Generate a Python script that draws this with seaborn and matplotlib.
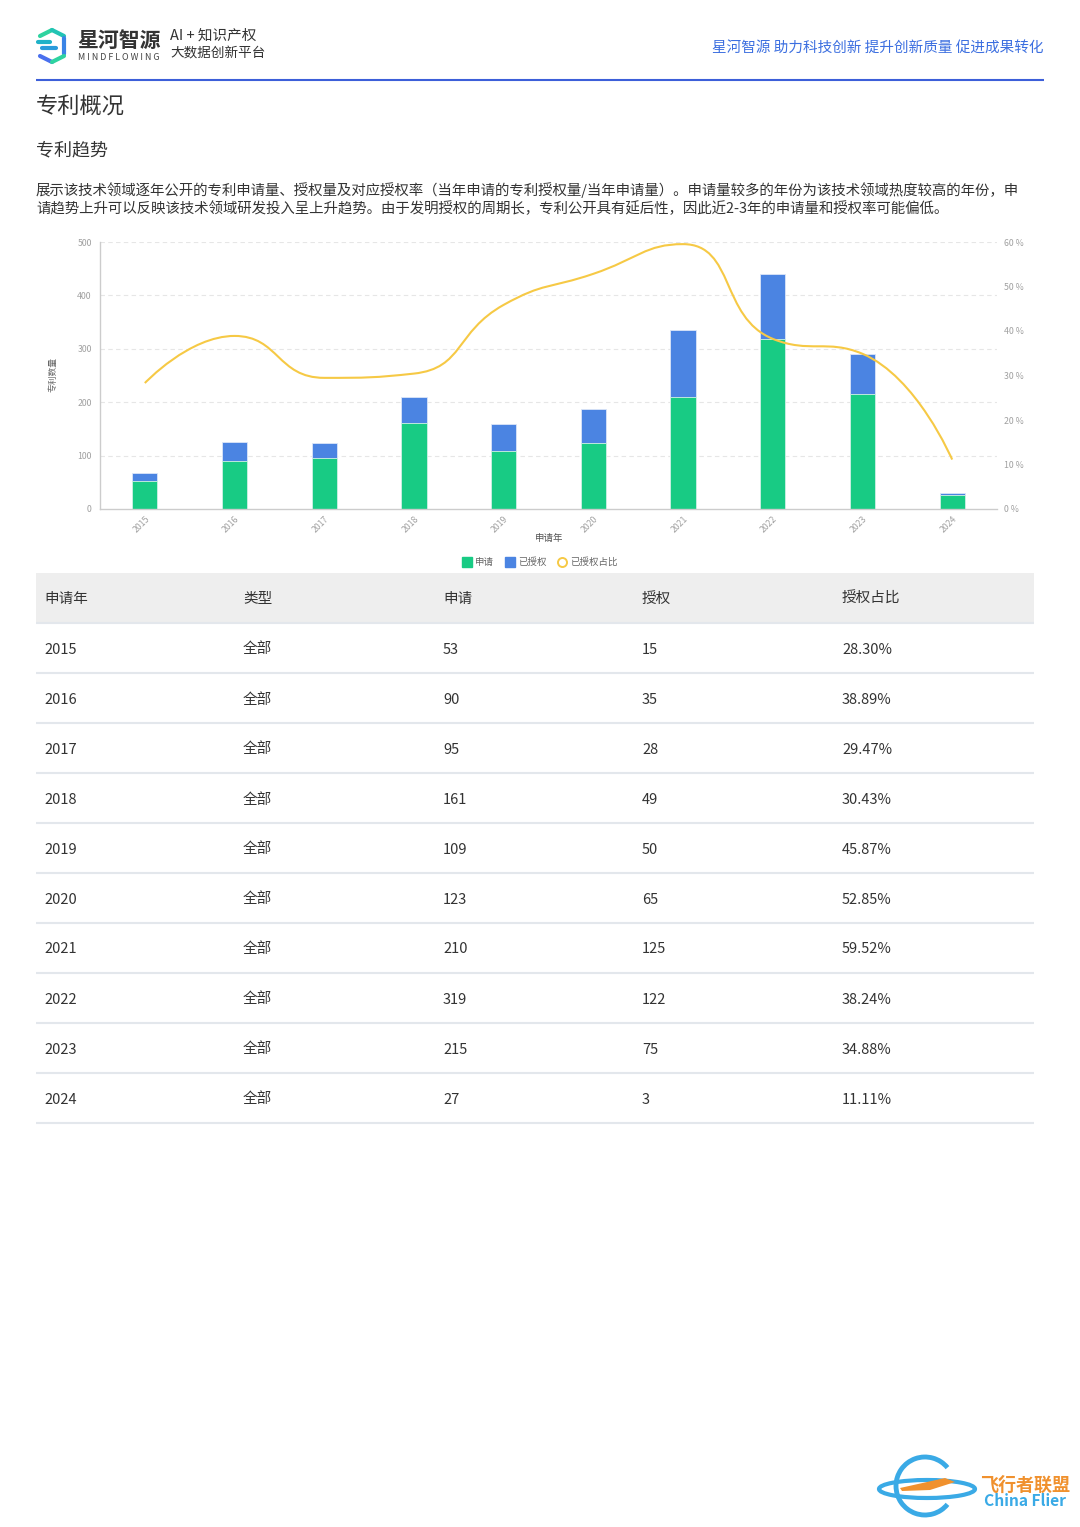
import numpy as np
import pandas as pd
import matplotlib
matplotlib.use("Agg")
import matplotlib.pyplot as plt
from matplotlib.path import Path
from matplotlib.patches import PathPatch, Rectangle, Ellipse, Arc, Polygon
from matplotlib.lines import Line2D
import seaborn as sns

years = [2015, 2016, 2017, 2018, 2019, 2020, 2021, 2022, 2023, 2024]
applied = [53, 90, 95, 161, 109, 123, 210, 319, 215, 27]
granted = [15, 35, 28, 49, 50, 65, 125, 122, 75, 3]
grant_ratio = [28.30, 38.89, 29.47, 30.43, 45.87, 52.85, 59.52, 38.24, 34.88, 11.11]
row_type = "全部"
table_header = ["申请年", "类型", "申请", "授权", "授权占比"]
y_ticks = [0, 100, 200, 300, 400, 500]
pct_ticks = [0, 10, 20, 30, 40, 50, 60]

GREEN = "#18CB84"
BLUE = "#4B84E2"
YELLOW = "#F6C945"
GREY = "#A0A0A0"
DARK = "#333333"

W, H = 1080, 1527
sns.set_theme(style="white")
plt.rcParams["font.family"] = ["Noto Sans CJK SC", "DejaVu Sans"]

fig = plt.figure(figsize=(W / 100, H / 100), dpi=100)
fig.patch.set_facecolor("white")


def fx(px):
    return px / W


def fy(py):
    return 1 - py / H


def txt(x, y, s, size, color=DARK, **kw):
    fig.text(fx(x), fy(y), s, fontsize=size, color=color, va="center", **kw)


def hline(x0, x1, y, color, lw):
    fig.add_artist(Line2D([fx(x0), fx(x1)], [fy(y), fy(y)], transform=fig.transFigure,
                          color=color, lw=lw, solid_capstyle="butt"))


# ---- page header ----
logo_cols = ["#2ED3A0", "#22C4B4", "#1FB2C8", "#2A9BDB", "#3A84E6", "#4A70EE"]
segs = [((40, 36), (52, 30)), ((52, 30), (64, 36)), ((38, 42), (50, 42)),
        ((42, 48), (56, 48)), ((64, 38), (64, 54)), ((40, 56), (52, 62)), ((52, 62), (64, 56))]
for k, ((x0, y0), (x1, y1)) in enumerate(segs):
    fig.add_artist(Line2D([fx(x0), fx(x1)], [fy(y0), fy(y1)], transform=fig.transFigure,
                          color=logo_cols[k % len(logo_cols)], lw=3, solid_capstyle="round"))
txt(77, 40, "星河智源", 15, "#333333", fontweight="bold")
txt(78, 57, "M I N D F L O W I N G", 6.4, "#444444")
txt(170, 36, "AI + 知识产权", 10.5, "#333333", fontweight="medium")
txt(170, 53, "大数据创新平台", 9.8, "#333333", fontweight="medium")
txt(1044, 48, "星河智源 助力科技创新 提升创新质量 促进成果转化", 10.5, "#3C6FE0", ha="right")
hline(36, 1044, 80, "#3D5FD9", 1.5)

txt(36, 106, "专利概况", 16, "#333333")
txt(36, 150, "专利趋势", 13, "#333333")
txt(36, 190, "展示该技术领域逐年公开的专利申请量、授权量及对应授权率（当年申请的专利授权量/当年申请量）。申请量较多的年份为该技术领域热度较高的年份，申",
    10.4, "#333333")
txt(36, 209, "请趋势上升可以反映该技术领域研发投入呈上升趋势。由于发明授权的周期长，专利公开具有延后性，因此近2-3年的申请量和授权率可能偏低。",
    10.4, "#333333")

# ---- chart ----
df = pd.DataFrame({"year": [str(y) for y in years], "applied": applied,
                   "total": [a + g for a, g in zip(applied, granted)]})

ax = fig.add_axes([fx(100), fy(509), fx(997) - fx(100), (509 - 242) / H])
sns.barplot(data=df, x="year", y="total", color=BLUE, width=0.28, saturation=1, ax=ax,
            edgecolor="#DCE6F8", linewidth=0.6)
sns.barplot(data=df, x="year", y="applied", color=GREEN, width=0.28, saturation=1, ax=ax,
            edgecolor="#D4F3E6", linewidth=0.6)
ax.set_xlim(-0.5, len(years) - 0.5)
ax.set_ylim(0, 500)
ax.set_yticks(y_ticks)
ax.set_yticklabels([str(v) for v in y_ticks])
for v in y_ticks[1:]:
    ax.axhline(v, color="#E6E6E6", lw=0.8, ls=(0, (4, 3)), zorder=0)
ax.tick_params(axis="y", labelsize=6.3, labelcolor=GREY, length=0, pad=6)
ax.tick_params(axis="x", labelsize=6.3, labelcolor=GREY, length=0, pad=4)
plt.setp(ax.get_xticklabels(), rotation=45, ha="right", rotation_mode="anchor")
for s in ["top", "right"]:
    ax.spines[s].set_visible(False)
for s in ["left", "bottom"]:
    ax.spines[s].set_color("#CCCCCC")
    ax.spines[s].set_linewidth(1.0)
ax.set_xlabel("")
ax.set_ylabel("")
ax.set_facecolor("none")
txt(53, 375, "专利数量", 6.3, "#666666", rotation=90, ha="center")
txt(549, 538, "申请年", 6.8, "#555555", ha="center")

ax2 = ax.twinx()
ax2.set_ylim(0, 60)
ax2.set_yticks(pct_ticks)
ax2.set_yticklabels([f"{v} %" for v in pct_ticks])
ax2.tick_params(axis="y", labelsize=6.3, labelcolor=GREY, length=0, pad=5)
for s in ax2.spines.values():
    s.set_visible(False)

# smoothed ratio line: bezier through the points, control points kept inside
# each segment's range so the curve never overshoots (echarts smooth=0.5)
pts = np.column_stack([np.arange(len(grant_ratio), dtype=float), grant_ratio])
scale = np.array([89.7, 267 / 60])
P = pts * scale
n = len(P)
smooth = 0.5


def clamp(c, a, b):
    lo, hi = np.minimum(a, b), np.maximum(a, b)
    return np.minimum(np.maximum(c, lo), hi)


cp_in = [P[0].copy()]
cp_out = [P[0].copy()]
for i in range(1, n - 1):
    prev, cur, nxt = P[i - 1], P[i], P[i + 1]
    v = nxt - prev
    l0 = np.hypot(*(cur - prev))
    l1 = np.hypot(*(nxt - cur))
    r = l1 / (l0 + l1)
    co = clamp(cur + v * smooth * r, cur, nxt)
    ci = cur - (co - cur) * l0 / l1
    ci = clamp(ci, prev, cur)
    co = cur + (cur - ci) * l1 / l0
    cp_in.append(ci)
    cp_out.append(co)
cp_in.append(P[-1].copy())
cp_out.append(P[-1].copy())

verts = [P[0]]
codes = [Path.MOVETO]
for i in range(n - 1):
    verts += [cp_out[i], cp_in[i + 1], P[i + 1]]
    codes += [Path.CURVE4] * 3
verts = np.array(verts) / scale
ax2.add_patch(PathPatch(Path(verts, codes), fill=False, edgecolor=YELLOW, lw=1.5, zorder=5))

handles = [Line2D([], [], marker="s", ls="", color=GREEN, markersize=6.5),
           Line2D([], [], marker="s", ls="", color=BLUE, markersize=6.5),
           Line2D([], [], marker="o", ls="", markerfacecolor="white",
                  markeredgecolor=YELLOW, markeredgewidth=1.4, markersize=6.5)]
fig.legend(handles, ["申请", "已授权", "已授权占比"], loc="center",
           bbox_to_anchor=(fx(540), fy(562)), ncol=3, frameon=False, fontsize=6.8,
           labelcolor="#666666", handletextpad=0.3, columnspacing=1.2, handlelength=1)

# ---- table ----
col_x = [44, 243, 443, 642, 842]
fig.add_artist(Rectangle((fx(36), fy(623)), fx(1034) - fx(36), 50 / H,
                         transform=fig.transFigure, facecolor="#EEEEEE", edgecolor="none"))
for cx, h in zip(col_x, table_header):
    txt(cx, 599, h, 10.5, DARK)
hline(36, 1034, 623, "#E3E7EC", 1.5)
for i, yr in enumerate(years):
    yc = 648 + 50 * i
    cells = [str(yr), row_type, str(applied[i]), str(granted[i]), f"{grant_ratio[i]:.2f}%"]
    for cx, c in zip(col_x, cells):
        txt(cx, yc + 1.5, c, 10.5, DARK)
    hline(36, 1034, yc + 25, "#E3E7EC", 1.5)

# ---- watermark ----
fig.add_artist(Arc((fx(925), fy(1486)), 58 / W, 58 / H, theta1=30, theta2=330,
                   transform=fig.transFigure, color="#3AAAE6", lw=3.5))
fig.add_artist(Ellipse((fx(927), fy(1489)), 96 / W, 18 / H, transform=fig.transFigure,
                       facecolor="none", edgecolor="#3AAAE6", lw=3))
fig.add_artist(Polygon([(fx(900), fy(1488)), (fx(945), fy(1478)), (fx(955), fy(1482)),
                        (fx(930), fy(1490)), (fx(902), fy(1491))], closed=True,
                       transform=fig.transFigure, facecolor="#F0912E", edgecolor="none"))
txt(1025, 1485, "飞行者联盟", 13, "#F0912E", ha="center", fontweight="bold")
txt(1025, 1501, "China Flier", 11.2, "#3AAAE6", ha="center", fontweight="bold")

fig.savefig("out.png", dpi=100, facecolor="white")
